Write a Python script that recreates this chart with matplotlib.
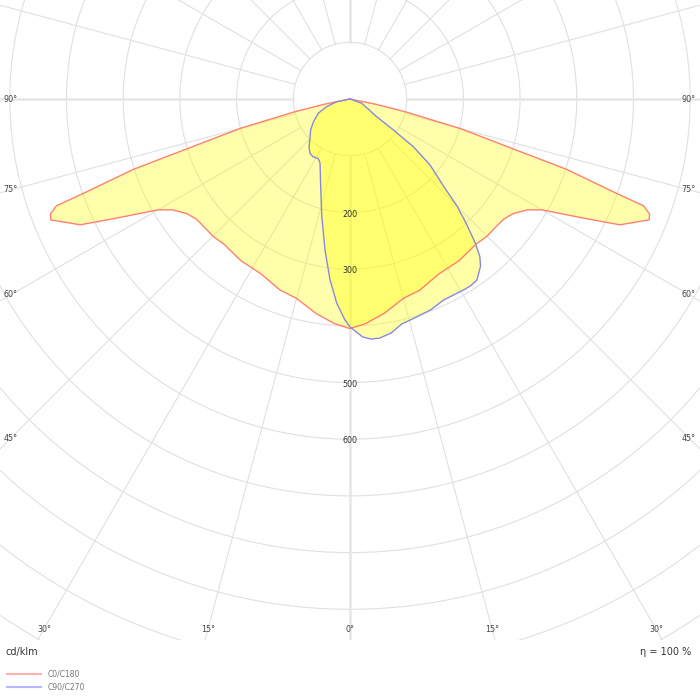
import numpy as np
import matplotlib.pyplot as plt
from matplotlib.patches import Rectangle

# C0/C180 (symmetrisch), Winkel in Grad, Werte in cd/klm
gamma_c0 = [0, 4, 9, 15, 20, 27, 34, 41, 45, 48, 52, 55, 58, 60, 63, 65, 68, 69, 70, 70.5, 72, 73, 75, 77, 78.5, 80, 90, 180]
int_c0 = [405, 397, 383, 364, 359, 346, 344, 339, 342, 342, 344, 352, 369, 391, 463, 525, 569, 566, 551, 499, 402, 301, 201, 100, 45, 0, 0, 0]

# C90 (rechts) und C270 (links)
gamma_c90 = [0, 3, 5, 7, 10, 13, 17, 21, 25, 31, 33, 35, 38, 39.5, 41, 43, 45, 47, 50.5, 53, 54.5, 56.5, 70, 90, 180]
int_c90 = [402, 420, 425, 425, 419, 407, 402, 398, 391, 392, 392, 390, 374, 360, 337, 301, 267, 226, 183, 140, 94, 56, 22, 0, 0]
gamma_c270 = [0, 1.3, 3.7, 6.3, 9.4, 13.5, 18.5, 25, 28, 32.5, 36.5, 40.5, 52, 58, 66, 72, 78.5, 90, 180]
int_c270 = [402, 390, 361, 321, 270, 213, 163, 125, 119, 121, 119, 111, 88, 76, 61, 43, 24, 0, 0]

ring_labels = [200, 300, 500, 600]
side_angles = [90, 75, 60, 45]
bottom_angles = [-30, -15, 0, 15, 30]

W, H = 700, 700
cx, cy = 350, 99          # Mittelpunkt in Pixeln (von oben)
scale = 0.567             # Pixel pro cd/klm
rmax = 1200

fig = plt.figure(figsize=(7, 7), dpi=100)
R = rmax * scale
ax = fig.add_axes([(cx - R) / W, (H - cy - R) / H, 2 * R / W, 2 * R / H], projection='polar')
ax.set_theta_zero_location('S')
ax.set_theta_direction(1)
ax.set_ylim(0, rmax)
ax.grid(False)
ax.set_xticks([])
ax.set_yticks([])
ax.spines['polar'].set_visible(False)

# Gitter
grid_col = '#e0e0e0'
full = np.linspace(0, 2 * np.pi, 721)
for rr in range(100, rmax + 100, 100):
    ax.plot(full, np.full_like(full, rr), color=grid_col, lw=0.8, zorder=1)
for a in range(0, 360, 15):
    t = np.deg2rad(a)
    if a % 90 == 0:
        ax.plot([t, t], [100, rmax], color='#e6e6e6', lw=1.8, zorder=1)
    else:
        ax.plot([t, t], [100, rmax], color=grid_col, lw=0.8, zorder=1)

# Kurven
g0 = np.array(gamma_c0)
i0 = np.array(int_c0)
th0 = np.deg2rad(np.concatenate([-g0[::-1], g0]))
r0 = np.concatenate([i0[::-1], i0])

g90 = np.array(gamma_c90)
g270 = np.array(gamma_c270)
th1 = np.deg2rad(np.concatenate([-g270[::-1], g90]))
r1 = np.concatenate([np.array(int_c270)[::-1], np.array(int_c90)])

ax.fill(th0, r0, color='#ffff00', alpha=0.33, lw=0, zorder=2)
ax.fill(th1, r1, color='#ffff00', alpha=0.35, lw=0, zorder=2)
ax.plot(th0, r0, color='#ff8070', lw=1, zorder=3)
ax.plot(th1, r1, color='#8888dd', lw=1, zorder=3)

for v in ring_labels:
    ax.text(0, v + 3, str(v), ha='center', va='center', fontsize=5.8, color='#333333', zorder=4)

# weisser Streifen unten
fig.add_artist(Rectangle((0, 0), 1, 60 / H, transform=fig.transFigure,
                         facecolor='white', edgecolor='none', zorder=5))

def ptxt(x, y, s, **kw):
    fig.text(x / W, 1 - y / H, s, zorder=6, **kw)

lab = dict(fontsize=5.8, color='#444444', ha='center', va='center')
for a in side_angles:
    y = cy + 339 / np.tan(np.deg2rad(a))
    ptxt(11, y, f'{a}°', **lab)
    ptxt(689, y, f'{a}°', **lab)
for a in bottom_angles:
    x = cx + 530 * np.tan(np.deg2rad(a))
    ptxt(x, 629, f'{abs(a)}°', **lab)

ptxt(6, 652, 'cd/klm', fontsize=7, color='#333333', ha='left', va='center')
ptxt(691, 652, 'η = 100 %', fontsize=7, color='#333333', ha='right', va='center')

fig.add_artist(plt.Line2D([7 / W, 41 / W], [1 - 674 / H, 1 - 674 / H], color='#ffb0b0', lw=1.5, zorder=6))
fig.add_artist(plt.Line2D([7 / W, 41 / W], [1 - 687 / H, 1 - 687 / H], color='#b8b8ff', lw=1.5, zorder=6))
ptxt(48, 674, 'C0/C180', fontsize=5.5, color='#777777', ha='left', va='center')
ptxt(48, 687, 'C90/C270', fontsize=5.5, color='#777777', ha='left', va='center')

fig.savefig('out.png', dpi=100)
